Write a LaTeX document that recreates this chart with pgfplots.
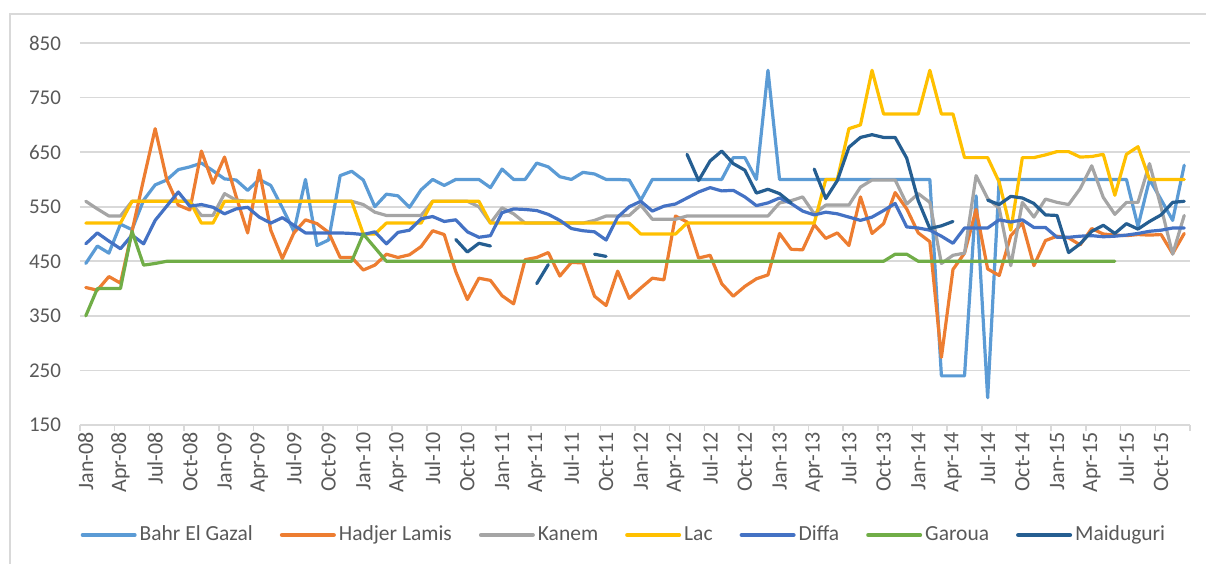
\documentclass[border=0pt]{standalone}
\usepackage{fontspec}
\setmainfont{Carlito}
\usepackage{pgfplots}
\usepackage{pgfplotstable}
\pgfplotsset{compat=1.18}
\definecolor{cBahr}{HTML}{5B9BD5}
\definecolor{cHadj}{HTML}{ED7D31}
\definecolor{cKan}{HTML}{A5A5A5}
\definecolor{cLac}{HTML}{FFC000}
\definecolor{cDif}{HTML}{4472C4}
\definecolor{cGar}{HTML}{70AD47}
\definecolor{cMai}{HTML}{255E91}
\definecolor{gridc}{HTML}{D9D9D9}
\definecolor{txt}{HTML}{595959}

\pgfplotstableread{
i bahr hadjer kanem lac diffa garoua maid
0 446 402 560 520 482 350 nan
1 478 397 546 520 502 400 nan
2 465 422 533 520 487 400 nan
3 518 410 533 520 473 400 nan
4 508 505 560 560 498 505 nan
5 562 600 560 560 482 443 nan
6 590 693 560 560 525 446 nan
7 599 600 560 560 551 450 nan
8 618 553 560 560 577 450 nan
9 623 544 560 560 551 450 nan
10 630 652 534 520 554 450 nan
11 616 593 534 520 549 450 nan
12 601 641 574 560 537 450 nan
13 599 569 562 560 546 450 nan
14 580 502 560 560 549 450 nan
15 600 617 560 560 531 450 nan
16 589 507 560 560 520 450 nan
17 548 455 560 560 530 450 nan
18 505 502 560 560 516 450 nan
19 600 526 560 560 502 450 nan
20 479 519 560 560 502 450 nan
21 489 503 560 560 502 450 nan
22 607 457 560 560 502 450 nan
23 615 457 560 560 501 450 nan
24 599 434 554 500 499 500 nan
25 550 443 540 500 504 475 nan
26 573 463 534 520 482 450 nan
27 570 457 534 520 503 450 nan
28 549 462 534 520 507 450 nan
29 581 477 534 520 528 450 nan
30 600 506 560 560 532 450 nan
31 589 499 560 560 523 450 nan
32 600 431 560 560 526 450 490
33 600 380 560 560 504 450 467
34 600 419 550 560 494 450 483
35 585 415 520 520 497 450 478
36 619 387 548 520 539 450 nan
37 600 372 537 520 546 450 nan
38 600 453 520 520 545 450 nan
39 630 457 520 520 543 450 409
40 623 466 520 520 536 450 444
41 605 423 520 520 525 450 nan
42 600 448 520 520 510 450 nan
43 613 447 520 520 506 450 nan
44 610 386 525 520 504 450 463
45 600 369 533 520 489 450 459
46 600 432 533 520 531 450 nan
47 599 382 534 520 550 450 nan
48 562 401 553 500 560 450 nan
49 600 419 527 500 542 450 nan
50 600 416 527 500 551 450 nan
51 600 533 527 500 555 450 nan
52 600 522 533 520 566 450 646
53 600 456 533 520 577 450 598
54 600 461 533 520 585 450 634
55 600 409 533 520 579 450 652
56 640 386 533 520 580 450 629
57 640 404 533 520 568 450 617
58 600 418 533 520 552 450 575
59 800 425 533 520 557 450 582
60 600 501 557 520 566 450 574
61 600 472 561 520 556 450 557
62 600 471 568 520 542 450 nan
63 600 517 537 520 535 450 619
64 600 492 553 600 540 450 565
65 600 502 553 600 537 450 598
66 600 479 553 693 531 450 659
67 600 568 586 700 525 450 677
68 600 501 599 800 531 450 682
69 600 519 599 720 543 450 677
70 600 576 599 720 556 463 677
71 600 546 555 720 513 463 639
72 600 502 574 720 511 450 561
73 600 486 558 800 507 450 510
74 240 274 446 720 496 450 515
75 240 435 461 720 483 450 523
76 240 465 465 640 511 450 nan
77 570 545 607 640 511 450 nan
78 200 436 565 640 511 450 562
79 600 424 547 595 526 450 554
80 600 497 442 507 522 450 569
81 600 520 558 640 526 450 566
82 600 442 531 640 512 450 556
83 600 488 564 645 512 450 535
84 600 496 558 651 494 450 534
85 600 493 554 651 494 450 466
86 600 480 583 641 496 450 482
87 600 510 625 642 497 450 505
88 600 500 567 646 495 450 516
89 600 498 536 571 496 450 501
90 600 497 558 646 498 nan 519
91 514 499 558 660 501 nan 509
92 600 498 629 600 505 nan 523
93 563 499 549 600 507 nan 535
94 525 464 463 600 511 nan 558
95 626 501 534 600 511 nan 560
}\data

\begin{document}
\begin{tikzpicture}
\path[use as bounding box] (-40pt,-69pt) rectangle (563pt,212.5pt);
\draw[gridc, line width=0.8pt] (-35pt,-90pt) -- (-35pt,205.5pt) -- (590pt,205.5pt);
\begin{axis}[
  at={(0,0)}, anchor=south west,
  scale only axis, width=555pt, height=191pt,
  xmin=-0.5, xmax=95.5, ymin=150, ymax=850,
  ytick={150,250,...,850},
  xtick={0,3,...,93},
  xticklabels={Jan-08,Apr-08,Jul-08,Oct-08,Jan-09,Apr-09,Jul-09,Oct-09,Jan-10,Apr-10,Jul-10,Oct-10,Jan-11,Apr-11,Jul-11,Oct-11,Jan-12,Apr-12,Jul-12,Oct-12,Jan-13,Apr-13,Jul-13,Oct-13,Jan-14,Apr-14,Jul-14,Oct-14,Jan-15,Apr-15,Jul-15,Oct-15},
  minor xtick={-0.5,2.5,...,95.5},
  major tick length=0pt, minor tick length=3pt, tick align=outside,
  minor tick style={gridc, line width=0.8pt},
  ymajorgrids, grid style={gridc, line width=0.8pt},
  separate axis lines,
  axis x line*=bottom, axis y line*=left,
  x axis line style={gridc, line width=0.8pt, -},
  y axis line style={draw=none},
  tick label style={font=\fontsize{10.5}{12}\selectfont, text=txt},
  xticklabel style={rotate=90, anchor=east, font=\fontsize{11}{12}\selectfont},
  yticklabel style={xshift=-6pt},
  /pgf/number format/assume math mode=true,
  unbounded coords=jump,
  no markers,
  every axis plot post/.append style={line width=1.6pt, line join=round, line cap=round},
  legend columns=7,
  legend cell align=left,
  legend style={at={(0.4905,-0.288)}, anchor=center, draw=none, fill=none,
    font=\fontsize{10.75}{12}\selectfont, text=txt,
    nodes={inner xsep=1.5pt},
    /tikz/every even column/.append style={column sep=12pt}},
  legend image code/.code={\draw[#1, line width=2pt] (0pt,0pt) -- (26pt,0pt);},
]
\addplot[cBahr] table[x=i, y=bahr] {\data};
\addlegendentry{Bahr El Gazal}
\addplot[cHadj] table[x=i, y=hadjer] {\data};
\addlegendentry{Hadjer Lamis}
\addplot[cKan] table[x=i, y=kanem] {\data};
\addlegendentry{Kanem}
\addplot[cLac] table[x=i, y=lac] {\data};
\addlegendentry{Lac}
\addplot[cDif] table[x=i, y=diffa] {\data};
\addlegendentry{Diffa}
\addplot[cGar] table[x=i, y=garoua] {\data};
\addlegendentry{Garoua}
\addplot[cMai] table[x=i, y=maid] {\data};
\addlegendentry{Maiduguri}
\end{axis}
\end{tikzpicture}
\end{document}
